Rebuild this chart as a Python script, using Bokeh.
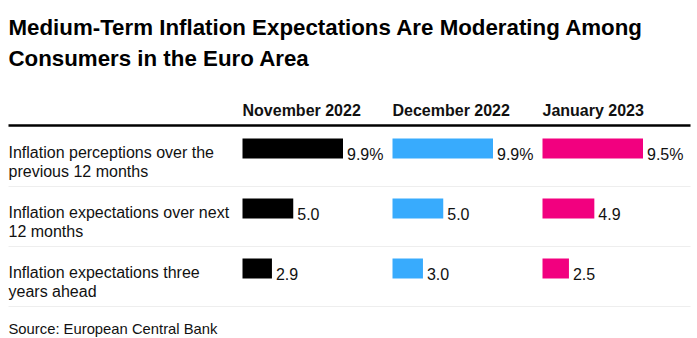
from bokeh.plotting import figure
from bokeh.models import Range1d
from bokeh.core.properties import value
from bokeh.embed import file_html
from bokeh.resources import INLINE

title_lines = ["Medium-Term Inflation Expectations Are Moderating Among",
               "Consumers in the Euro Area"]
months = ["November 2022", "December 2022", "January 2023"]
row_labels = [["Inflation perceptions over the", "previous 12 months"],
              ["Inflation expectations over next", "12 months"],
              ["Inflation expectations three", "years ahead"]]
nov = [9.9, 5.0, 2.9]
dec = [9.9, 5.0, 3.0]
jan = [9.5, 4.9, 2.5]
series = [nov, dec, jan]
colors = ["#000000", "#38abfd", "#f2007f"]
source = "Source: European Central Bank"

W, H = 697, 338
p = figure(width=W, height=H, output_backend="svg", toolbar_location=None,
           x_range=Range1d(0, W), y_range=Range1d(H, 0), min_border=0)
p.axis.visible = False
p.grid.visible = False
p.outline_line_color = None
p.background_fill_color = "white"
p.border_fill_color = "white"

FONT = value("Liberation Sans")
TXT = "#111111"

# title
p.text(x=[8, 8], y=[27, 58], text=title_lines, text_font=FONT,
       text_font_style="bold", text_font_size="22.3px", text_color="#000000",
       text_baseline="alphabetic")

# column headers
col_x = [242, 392, 542]
p.text(x=col_x, y=[110] * 3, text=months, text_font=FONT, text_font_style="bold",
       text_font_size="16px", text_color=TXT, text_baseline="alphabetic")

# rules
p.segment(x0=[8], y0=[125], x1=[690], y1=[125], line_color="#000000", line_width=2.5)
row_y = [148, 208, 268]
p.segment(x0=[8] * 3, y0=[y + 38 for y in row_y], x1=[690] * 3,
          y1=[y + 38 for y in row_y], line_color="#eeeeee", line_width=1)

# row labels
lx, ly, lt = [], [], []
for y, lines in zip(row_y, row_labels):
    for k, t in enumerate(lines):
        lx.append(8)
        ly.append(y + 4 + 19 * k)
        lt.append(t)
p.text(x=lx, y=ly, text=lt, text_font=FONT, text_font_size="16px",
       text_color=TXT, text_baseline="alphabetic")

# bars (each column scaled to its own maximum -> 100 px)
BAR_PX = 100.5
for cx, vals, c in zip(col_x, series, colors):
    scale = BAR_PX / max(vals)
    rights = [cx + v * scale for v in vals]
    p.hbar(y=row_y, left=[cx] * 3, right=rights, height=20, fill_color=c,
           line_color=None)
    labs = [f"{v:.1f}%" if i == 0 else f"{v:.1f}" for i, v in enumerate(vals)]
    p.text(x=[r + 4 for r in rights], y=[y + 5.5 for y in row_y], text=labs,
           text_font=FONT, text_font_size="16px", text_color=TXT,
           text_baseline="alphabetic")

# source
p.text(x=[8], y=[328], text=[source], text_font=FONT, text_font_size="14.8px",
       text_color=TXT, text_baseline="alphabetic")

open("out.html", "w").write(file_html(p, INLINE))
